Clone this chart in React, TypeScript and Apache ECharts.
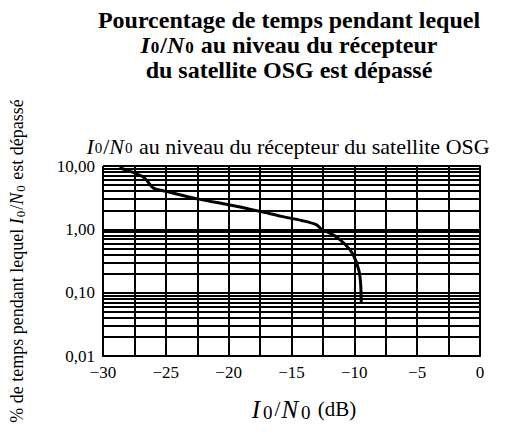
import React, { useEffect, useRef } from "react";
import * as echarts from "echarts";

const xValues = [-28.7, -27.6, -26.7, -26.0, -25.0, -22.4, -20.0, -17.5, -15.8, -14.2, -13.0, -12.6, -11.6, -10.7, -10.1, -9.65, -9.5, -9.45];
const yValues = [9.4, 7.9, 6.5, 4.5, 4.0, 3.0, 2.45, 1.92, 1.6, 1.38, 1.18, 1.0, 0.8, 0.57, 0.4, 0.23, 0.14, 0.066];
const minorGridValues = [
  0.02, 0.03, 0.04, 0.05, 0.06, 0.07, 0.08, 0.09,
  0.2, 0.3, 0.4, 0.5, 0.6, 0.7, 0.8, 0.9,
  2, 3, 4, 5, 6, 7, 8, 9,
];
const yTickLabels: Record<string, string> = { "0.01": "0,01", "0.1": "0,10", "1": "1,00", "10": "10,00" };

const FONT = "Liberation Serif";

type Opt = { size: number; iSize: number; subSize: number; bold: boolean; key: "fill" | "color"; lh: number; iPad?: number; sPad?: number };
const richSet = ({ size, iSize, subSize, bold, key, lh, iPad = 0, sPad = 1 }: Opt) => {
  const w = bold ? "bold" : "normal";
  return {
    i: { fontStyle: "italic", fontWeight: w, fontSize: iSize, fontFamily: FONT, [key]: "#000", lineHeight: lh, padding: [0, iPad, 0, iPad] },
    s: { fontWeight: w, fontSize: subSize, fontFamily: FONT, [key]: "#000", verticalAlign: "bottom", padding: [0, sPad, 0, sPad], lineHeight: lh },
    n: { fontWeight: w, fontSize: size, fontFamily: FONT, [key]: "#000", lineHeight: lh },
  };
};

export default function App() {
  const ref = useRef<HTMLDivElement>(null);
  useEffect(() => {
    if (!ref.current) return;
    const chart = echarts.init(ref.current, null, { renderer: "svg" });
    const titleRich = richSet({ size: 24, iSize: 24, subSize: 17, bold: true, key: "fill", lh: 22 });
    chart.setOption({
      animation: false,
      backgroundColor: "#fff",
      textStyle: { fontFamily: FONT, color: "#000" },
      grid: { left: 100, right: 26, top: 166, bottom: 78 },
      graphic: [
        {
          type: "text",
          x: 289,
          y: 20,
          style: { text: "{n|Pourcentage de temps pendant lequel}", textAlign: "center", textVerticalAlign: "middle", rich: titleRich },
        },
        {
          type: "text",
          x: 289,
          y: 45,
          style: { text: "{i|I}{s|0}{n|/}{i|N}{s|0}{n| au niveau du récepteur}", textAlign: "center", textVerticalAlign: "middle", rich: titleRich },
        },
        {
          type: "text",
          x: 289,
          y: 70,
          style: { text: "{n|du satellite OSG est dépassé}", textAlign: "center", textVerticalAlign: "middle", rich: titleRich },
        },
        {
          type: "text",
          x: 288,
          y: 146,
          style: {
            text: "{i|I}{s|0}{n|/}{i|N}{s|0}{n| au niveau du récepteur du satellite OSG}",
            textAlign: "center",
            textVerticalAlign: "middle",
            rich: richSet({ size: 22, iSize: 22, subSize: 15, bold: false, key: "fill", lh: 18 }),
          },
        },
      ],
      xAxis: {
        type: "value",
        min: -30,
        max: 0,
        interval: 2.5,
        name: "{i|I}{s|0}{n|/}{i|N}{s|0}{n| (dB)}",
        nameLocation: "middle",
        nameGap: 40,
        nameTextStyle: {
          rich: richSet({ size: 21, iSize: 25, subSize: 19, bold: false, key: "color", lh: 26, iPad: 1, sPad: 2 }),
          padding: [0, 0, 0, 24],
        },
        axisLine: { show: true, onZero: false, lineStyle: { color: "#000", width: 2 } },
        axisTick: { show: false },
        axisLabel: {
          margin: 8,
          fontSize: 17,
          fontFamily: FONT,
          color: "#000",
          formatter: (v: number) => (Math.abs(v % 5) > 1e-6 ? "" : v === 0 ? "0" : "\u2212" + Math.abs(v)),
        },
        splitLine: { show: true, lineStyle: { color: "#000", width: 2 } },
      },
      yAxis: {
        type: "log",
        logBase: 10,
        min: 0.01,
        max: 10,
        name: "{n|% de temps pendant lequel }{i|I}{s|0}{n|/}{i|N}{s|0}{n| est dépassé}",
        nameLocation: "middle",
        nameGap: 76,
        nameRotate: 90,
        nameTextStyle: { rich: richSet({ size: 18, iSize: 18, subSize: 13, bold: false, key: "color", lh: 20 }) },
        axisLine: { show: true, lineStyle: { color: "#000", width: 2 } },
        axisTick: { show: false },
        axisLabel: {
          margin: 8,
          fontSize: 17,
          fontFamily: FONT,
          color: "#000",
          formatter: (v: number) => yTickLabels[String(+v.toPrecision(3))] ?? "",
        },
        splitLine: { show: true, lineStyle: { color: "#000", width: 2 } },
        minorTick: { show: false },
      },
      series: [
        {
          type: "line",
          data: [],
          z: 1,
          silent: true,
          markLine: {
            silent: true,
            symbol: "none",
            animation: false,
            label: { show: false },
            lineStyle: { color: "#000", width: 2, type: "solid" },
            data: minorGridValues.map((v) => ({ yAxis: v })),
          },
        },
        {
          type: "line",
          z: 5,
          data: xValues.map((x, i) => [x, yValues[i]]),
          showSymbol: false,
          smooth: 0.3,
          lineStyle: { color: "#000", width: 3 },
        },
        {
          type: "line",
          data: [[-30, 10], [0, 10]],
          showSymbol: false,
          z: 2,
          lineStyle: { color: "#000", width: 2 },
        },
        {
          type: "line",
          data: [[0, 0.01], [0, 10]],
          showSymbol: false,
          z: 2,
          lineStyle: { color: "#000", width: 2 },
        },
      ],
    });
    return () => chart.dispose();
  }, []);
  return <div ref={ref} style={{ width: 506, height: 434, margin: -8 }} />;
}
